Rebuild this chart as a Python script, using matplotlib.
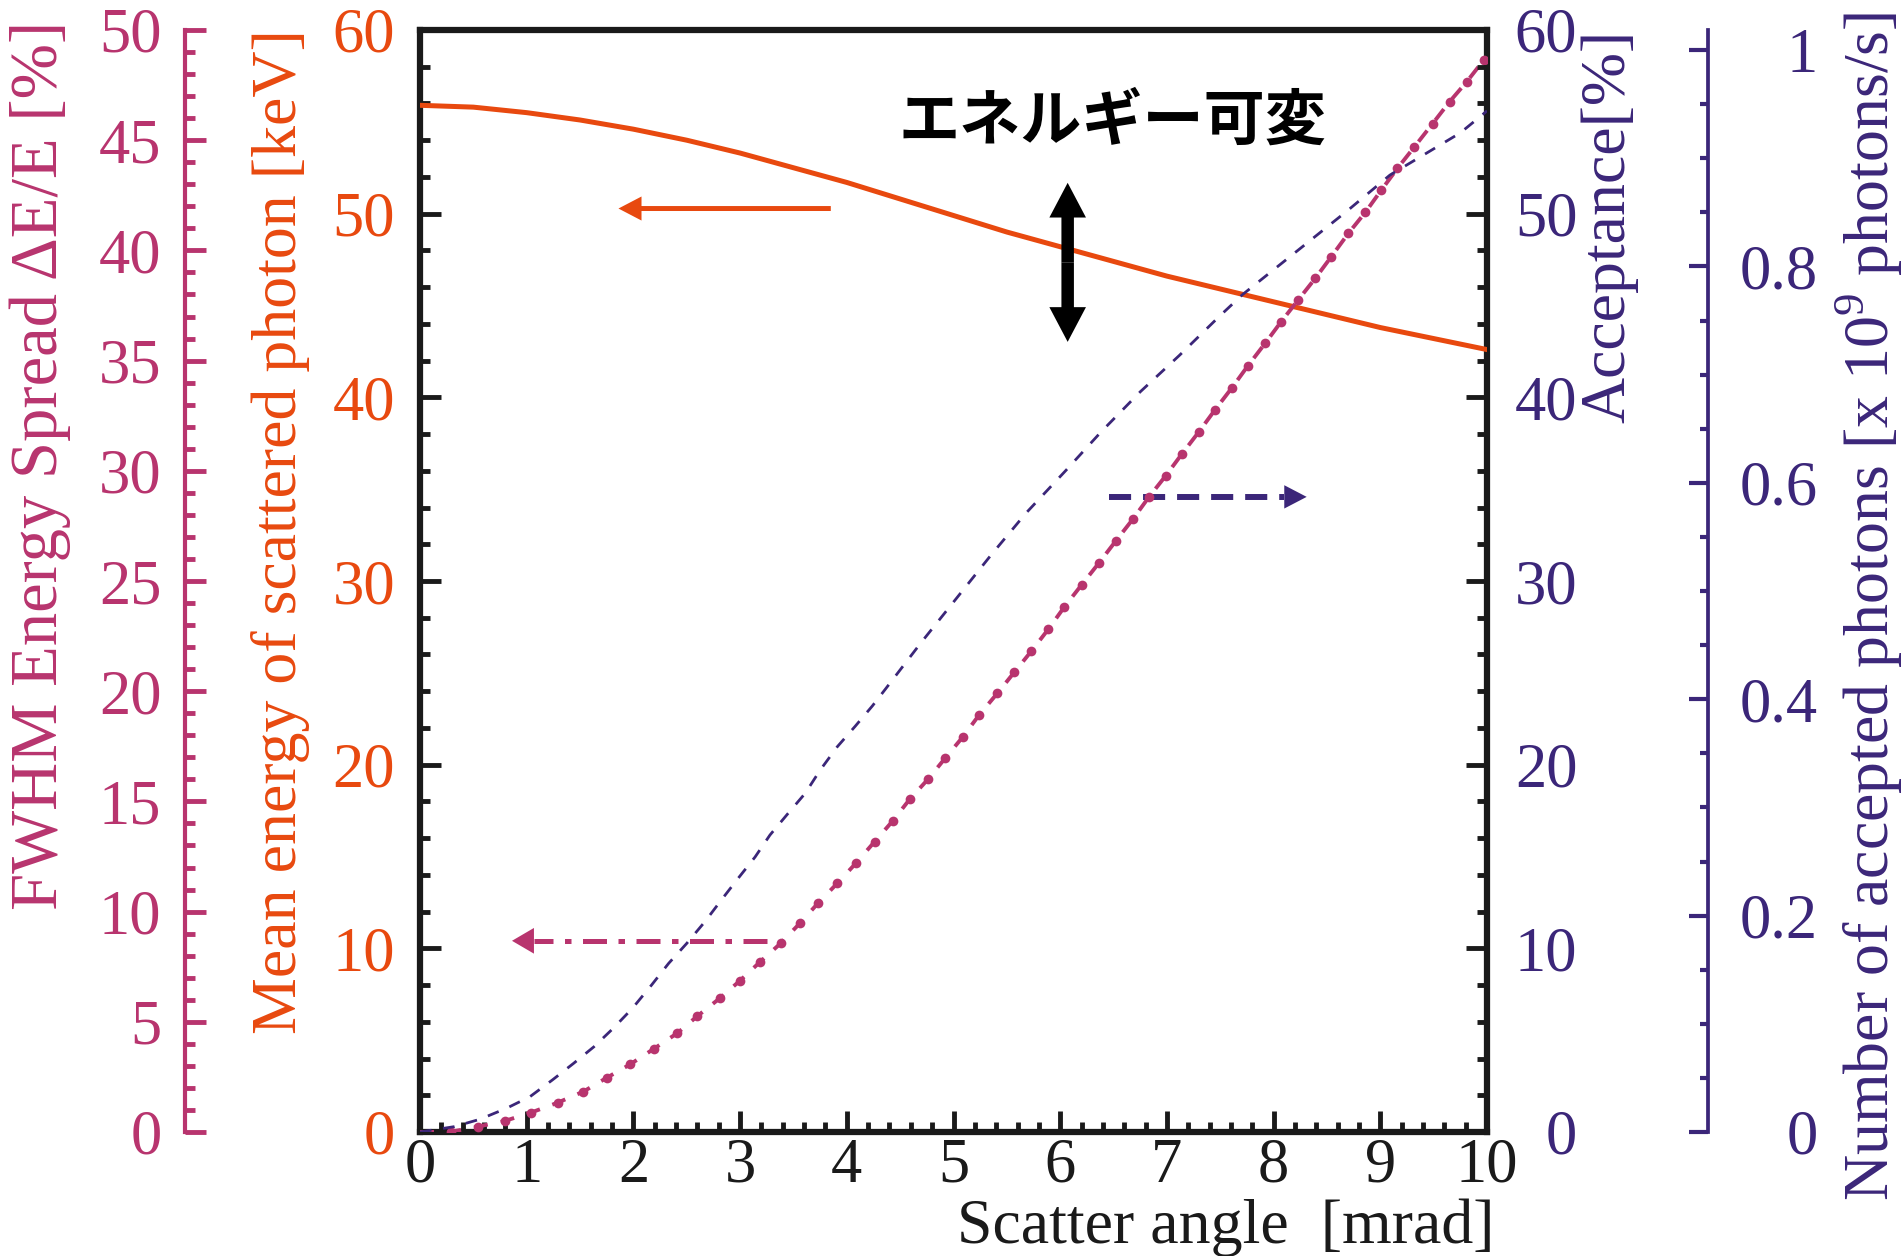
import matplotlib
matplotlib.use('Agg')
import matplotlib.pyplot as plt
import matplotlib.ticker as mtick

plt.rcParams['font.family'] = ['Liberation Serif', 'DejaVu Serif']
plt.rcParams['mathtext.fontset'] = 'custom'
plt.rcParams['mathtext.rm'] = 'Liberation Serif'

ORANGE = '#e8490f'
PINK = '#b8346e'
PURPLE = '#3b2679'
BLACK = '#1a1a1a'

# mean energy of scattered photon [keV] (left orange axis)
energy_angle = [0, 0.5, 1, 1.5, 2, 2.5, 3, 3.5, 4, 4.5, 5, 5.5, 6, 6.5, 7, 7.5, 8, 8.5, 9, 9.5, 10]
mean_energy = [55.9, 55.8, 55.5, 55.1, 54.6, 54.0, 53.3, 52.5, 51.7, 50.8, 49.9,
               49.0, 48.2, 47.4, 46.6, 45.9, 45.2, 44.5, 43.8, 43.2, 42.6]

# acceptance [%] (right axis)
acc_angle = [0, 0.32, 0.56, 0.81, 1.03, 1.24, 1.44, 1.63, 1.81, 1.99, 2.17, 2.33, 2.5, 2.67,
             2.82, 2.98, 3.14, 3.28, 3.45, 3.61, 3.75, 3.91, 4.08, 4.24, 4.36, 4.69, 5.02,
             5.35, 5.68, 6.05, 6.38, 6.75, 7.12, 7.49, 7.71, 8.27, 8.7, 9.09, 9.75, 9.96, 10]
acceptance = [0, 0.29, 0.69, 1.29, 1.92, 2.83, 3.74, 4.64, 5.64, 6.73, 8.0, 9.18, 10.27, 11.45,
              12.6, 13.8, 14.97, 16.17, 17.35, 18.44, 19.7, 20.97, 22.1, 23.2, 24.1, 26.6, 29.0,
              31.4, 33.7, 36.0, 38.1, 40.3, 42.3, 44.4, 45.6, 48.2, 50.2, 52.1, 54.4, 55.4, 55.6]

# FWHM energy spread [%] (far left pink axis)
spread_angle = [0, 0.29, 0.54, 0.8, 1.04, 1.29, 1.53, 1.75, 1.97, 2.19, 2.41, 2.6, 2.81, 3.0,
                3.19, 3.38, 3.56, 3.73, 3.91, 4.09, 4.26, 4.43, 4.59, 4.76, 4.92, 5.09, 5.24,
                5.41, 5.57, 5.73, 5.89, 6.04, 6.2, 6.36, 6.52, 6.68, 6.83, 6.99, 7.14, 7.3,
                7.45, 7.61, 7.76, 7.92, 8.07, 8.23, 8.39, 8.54, 8.7, 8.86, 9.01, 9.16, 9.32,
                9.49, 9.65, 9.81, 9.97]
spread = [0, 0.01, 0.24, 0.51, 0.88, 1.33, 1.83, 2.46, 3.07, 3.77, 4.48, 5.26, 6.07, 6.87,
          7.73, 8.56, 9.47, 10.38, 11.28, 12.22, 13.17, 14.11, 15.1, 16.0, 16.95, 17.94, 18.92,
          19.9, 20.86, 21.82, 22.82, 23.83, 24.82, 25.8, 26.81, 27.8, 28.8, 29.78, 30.76, 31.77,
          32.76, 33.77, 34.77, 35.78, 36.76, 37.75, 38.73, 39.71, 40.77, 41.73, 42.74, 43.72, 44.7,
          45.75, 46.75, 47.65, 48.64]

fig = plt.figure(figsize=(19.02, 12.56), dpi=100)
ax = fig.add_axes([420 / 1902, 1 - 1132 / 1256, 1067 / 1902, 1102 / 1256])

tick_font = 45
label_font = 46

# main axes: x and mean energy
ax.set_xlim(0, 10)
ax.set_ylim(0, 60)
ax.xaxis.set_major_locator(mtick.MultipleLocator(1))
ax.xaxis.set_minor_locator(mtick.MultipleLocator(0.2))
ax.yaxis.set_major_locator(mtick.MultipleLocator(10))
ax.yaxis.set_minor_locator(mtick.MultipleLocator(2))
ax.xaxis.set_ticks_position('bottom')
ax.yaxis.set_ticks_position('left')
ax.tick_params(which='both', direction='in', width=3.5, color=BLACK)
ax.tick_params(which='major', length=15)
ax.tick_params(which='minor', length=7)
ax.tick_params(axis='x', labelsize=tick_font, labelcolor=BLACK, pad=4)
ax.tick_params(axis='y', labelsize=tick_font, labelcolor=ORANGE, pad=18)
for sp in ax.spines.values():
    sp.set_linewidth(4.5)
    sp.set_color(BLACK)

ax.plot(energy_angle, mean_energy, color=ORANGE, lw=3.6, zorder=3)

ax.set_xlabel('Scatter angle  [mrad]', fontsize=label_font, color=BLACK, va='baseline')
ax.xaxis.set_label_coords(0.755, -0.1007)
ax.set_ylabel('Mean energy of scattered photon [keV]', fontsize=label_font, color=ORANGE, va='center')
ax.yaxis.set_label_coords(-0.1303, 0.5445)

# FWHM axis on the far left
ax_fw = ax.twinx()
ax_fw.set_ylim(0, 50)
ax_fw.yaxis.set_major_locator(mtick.MultipleLocator(5))
ax_fw.yaxis.set_minor_locator(mtick.MultipleLocator(1))
ax_fw.yaxis.set_ticks_position('left')
ax_fw.yaxis.set_label_position('left')
ax_fw.spines['left'].set_position(('axes', -0.2202))
ax_fw.spines['left'].set_visible(True)
ax_fw.spines['left'].set_color(PINK)
ax_fw.spines['left'].set_linewidth(3)
for side in ['right', 'top', 'bottom']:
    ax_fw.spines[side].set_visible(False)
ax_fw.tick_params(axis='y', which='both', direction='in', width=3.5, color=PINK,
                  labelcolor=PINK, labelsize=tick_font, pad=17)
ax_fw.tick_params(axis='y', which='major', length=15)
ax_fw.tick_params(axis='y', which='minor', length=7.5)
ax_fw.plot(spread_angle, spread, color=PINK, lw=2.8, dashes=(3.6, 3.4),
           marker='o', markersize=7, markeredgewidth=0, markevery=slice(1, None), zorder=3)
ax_fw.set_ylabel('FWHM Energy Spread \u0394E/E [%]', fontsize=48, color=PINK, va='center')
ax_fw.yaxis.set_label_coords(-0.356, 0.605)

# acceptance axis on the right spine
ax_acc = ax.twinx()
ax_acc.set_ylim(0, 60)
ax_acc.yaxis.set_major_locator(mtick.MultipleLocator(10))
ax_acc.yaxis.set_minor_locator(mtick.MultipleLocator(2))
for side in ['left', 'right', 'top', 'bottom']:
    ax_acc.spines[side].set_visible(False)
ax_acc.tick_params(axis='y', which='both', direction='in', width=3.5, color=BLACK,
                   labelcolor=PURPLE, labelsize=tick_font, pad=65)
ax_acc.tick_params(axis='y', which='major', length=15)
ax_acc.tick_params(axis='y', which='minor', length=7)
ax_acc.set_yticks([0, 10, 20, 30, 40, 50, 60])
plt.setp(ax_acc.get_yticklabels(), ha='right')
ax_acc.plot(acc_angle, acceptance, color=PURPLE, lw=2.0, dashes=(4.2, 4.2), zorder=3)
ax_acc.set_ylabel('Acceptance[%]', fontsize=label_font, color=PURPLE, va='center')
ax_acc.yaxis.set_label_coords(1.1143, 0.822)

# number of accepted photons on the far right
ax_n = ax.twinx()
ax_n.set_ylim(0, 1.0185)
ax_n.set_yticks([0, 0.2, 0.4, 0.6, 0.8, 1.0])
ax_n.set_yticklabels(['0', '0.2', '0.4', '0.6', '0.8', '1'])
ax_n.yaxis.set_minor_locator(mtick.FixedLocator([0.05 * i for i in range(21)]))
ax_n.spines['right'].set_position(('axes', 1.2071))
ax_n.spines['right'].set_color(PURPLE)
ax_n.spines['right'].set_linewidth(2.7)
for side in ['left', 'top', 'bottom']:
    ax_n.spines[side].set_visible(False)
ax_n.tick_params(axis='y', which='both', direction='in', width=3, color=PURPLE,
                 labelcolor=PURPLE, labelsize=tick_font, pad=79)
ax_n.tick_params(axis='y', which='major', length=14)
ax_n.tick_params(axis='y', which='minor', length=6)
plt.setp(ax_n.get_yticklabels(), ha='right')
ax_n.set_ylabel(r'Number of accepted photons [x 10$^{9}$ photons/s]', fontsize=label_font,
                color=PURPLE, va='center')
ax_n.yaxis.set_label_coords(1.358, 0.477)

# annotations (drawn on the energy axes)
ax.arrow(3.85, 50.28, 1.86 - 3.85, 0, width=0.27, head_width=1.31, head_length=0.216,
         length_includes_head=True, color=ORANGE, lw=0, zorder=4)

ax.arrow(6.07, 47.35, 0, 51.68 - 47.35, width=0.117, head_width=0.343, head_length=1.89,
         length_includes_head=True, color='black', lw=0, zorder=4)
ax.arrow(6.07, 47.35, 0, 43.02 - 47.35, width=0.117, head_width=0.343, head_length=1.89,
         length_includes_head=True, color='black', lw=0, zorder=4)

ax.plot([6.46, 8.10], [34.58, 34.58], color=PURPLE, lw=4.3, dashes=(3.7, 2.0),
        dash_capstyle='butt', zorder=4)
ax.arrow(8.10, 34.58, 8.31 - 8.10, 0, width=0, head_width=1.27, head_length=0.21,
         length_includes_head=True, color=PURPLE, lw=0, zorder=4)

ax.plot([3.25, 1.07], [10.41, 10.41], color=PINK, lw=3.6, dashes=(4.8, 2.3, 1.3, 2.3),
        dash_capstyle='butt', zorder=4)
ax.arrow(1.068, 10.41, 0.862 - 1.068, 0, width=0, head_width=1.40, head_length=0.206,
         length_includes_head=True, color=PINK, lw=0, zorder=4)

ax.text(6.49, 55.0, 'エネルギー可変', ha='center', va='center', fontsize=44,
        fontweight='bold', family=['Noto Sans CJK JP', 'DejaVu Sans'], color='black')

plt.savefig('out.png', dpi=100)
